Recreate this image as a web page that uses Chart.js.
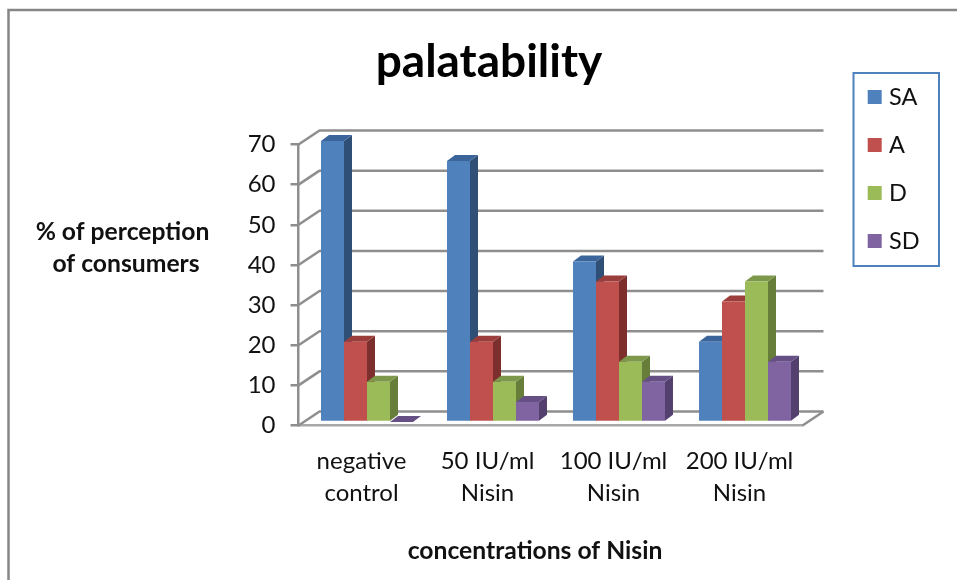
<!DOCTYPE html>
<html><head><meta charset="utf-8">
<style>html,body{margin:0;padding:0;background:#fff}canvas{display:block}</style>
<script src="https://cdn.jsdelivr.net/npm/chart.js@4"></script>
</head><body><canvas id="c" width="957" height="580"></canvas>
<script>
const categories = [["negative","control"],["50 IU/ml","Nisin"],["100 IU/ml","Nisin"],["200 IU/ml","Nisin"]];
const SA = [70,65,40,20];
const A  = [20,20,35,30];
const D  = [10,10,15,35];
const SD = [0,5,10,15];
const seriesNames = ["SA","A","D","SD"];
const chartTitle = "palatability";
const yTitleLines = ["% of perception","of consumers"];
const xTitle = "concentrations of Nisin";

const FONT = "Lato, Carlito, Calibri, sans-serif";
const TEXT = "#111";
const GRID = "#8e8e8e";
const front = ["#4f81bd","#c0504d","#9bbb59","#8064a2"];
const side  = ["#2f4f76","#7d2f2d","#677d3a","#54406e"];
const top_  = ["#3b659a","#9b3d3a","#7d984a","#654f85"];
const DEPTH_X = 8, DEPTH_Y = 6;          // bar depth
const BAR_SHIFT_X = 5.5, BAR_SHIFT_Y = -3.5; // bars sit inside the floor
const WALL_X = 21, WALL_Y = 14;          // back wall offset from the front plane

const view3d = {
  id: "view3d",
  beforeLayout(chart){
    const l = chart.legend;
    if (l && !l._wrapped){
      const f = l.fit;
      l.fit = function(){ f.call(this); this.width = 154.5; };
      l._wrapped = true;
    }
  },
  afterLayout(chart){
    const l = chart.legend;
    l.left = 847.7; l.right = 957; l.top = 60.75; l.bottom = 280;
  },
  beforeDraw(chart){
    const c = chart.ctx;
    c.save();
    c.fillStyle = "#fff"; c.fillRect(0,0,chart.width,chart.height);
    c.strokeStyle = "#868686"; c.lineWidth = 2.5;
    c.beginPath(); c.moveTo(8.5,chart.height); c.lineTo(8.5,10); c.lineTo(chart.width,10); c.stroke();
    // legend frame
    c.strokeStyle = "#4f81bd"; c.lineWidth = 2;
    c.strokeRect(853.5,73,85.5,193);
    // axis titles
    c.fillStyle = TEXT; c.textAlign = "center"; c.textBaseline = "middle";
    c.font = "bold 24.7px " + FONT;
    c.fillText(yTitleLines[0],122.5,232);
    c.fillText(yTitleLines[1],126,264);
    c.fillText(xTitle,535,551);
    c.restore();
  },
  beforeDatasetsDraw(chart){
    const c = chart.ctx, a = chart.chartArea, y = chart.scales.y;
    c.save();
    c.strokeStyle = GRID; c.lineWidth = 2.5; c.lineJoin = "round";
    y.ticks.forEach((t,i)=>{
      const p = y.getPixelForTick(i);
      c.beginPath();
      c.moveTo(a.left,p); c.lineTo(a.left+WALL_X,p-WALL_Y); c.lineTo(a.right+WALL_X,p-WALL_Y);
      c.stroke();
    });
    c.beginPath();
    c.moveTo(a.right,a.bottom); c.lineTo(a.right+WALL_X,a.bottom-WALL_Y); c.stroke();
    c.restore();
    c.save();
    c.translate(BAR_SHIFT_X,BAR_SHIFT_Y);
    // side and top faces, left to right; the front faces are then drawn over them
    values.forEach((v,i)=>{
      chart.getDatasetMeta(i).data.forEach(b=>{
        const w = b.width, l = b.x-w/2, r = b.x+w/2, t = b.y, base = b.base;
        c.fillStyle = side[i];
        c.beginPath();
        c.moveTo(r,t); c.lineTo(r+DEPTH_X,t-DEPTH_Y); c.lineTo(r+DEPTH_X,base-DEPTH_Y); c.lineTo(r,base);
        c.closePath(); c.fill();
        c.fillStyle = top_[i];
        c.beginPath();
        c.moveTo(l,t); c.lineTo(l+DEPTH_X,t-DEPTH_Y); c.lineTo(r+DEPTH_X,t-DEPTH_Y); c.lineTo(r,t);
        c.closePath(); c.fill();
      });
    });
  },
  afterDatasetsDraw(chart){ chart.ctx.restore(); }
};

const values = [SA,A,D,SD];
new Chart(document.getElementById("c"),{
  type:"bar",
  data:{
    labels:categories,
    datasets:values.map((v,i)=>({
      label:seriesNames[i], data:v, backgroundColor:front[i], borderWidth:0,
      clip:false, categoryPercentage:0.73, barPercentage:1
    }))
  },
  options:{
    responsive:false, animation:false, devicePixelRatio:1,
    layout:{padding:{left:21,right:0,top:0,bottom:0}},
    plugins:{
      tooltip:{enabled:false},
      title:{display:true,text:chartTitle,color:"#000",
        font:{family:FONT,size:46,weight:"bold",lineHeight:"48px"},
        padding:{top:38,bottom:58.5}},
      legend:{position:"right",align:"start",
        labels:{color:TEXT,font:{family:FONT,size:23.5},usePointStyle:true,pointStyle:"rect",
          boxWidth:5,boxHeight:14,padding:24.5}}
    },
    scales:{
      x:{
        afterFit:s=>{s.height=154.5;},
        grid:{display:false},
        border:{display:true,color:"#a8a8a8",width:2.5},
        ticks:{color:TEXT,font:{family:FONT,size:24,lineHeight:"32px"},padding:11.5,maxRotation:0,autoSkip:false}
      },
      y:{
        min:0,max:70,
        afterFit:s=>{s.width=277.5;},
        grid:{drawOnChartArea:false,drawTicks:true,tickLength:8,color:GRID,lineWidth:2.5},
        border:{display:true,color:GRID,width:2.5},
        ticks:{stepSize:10,color:TEXT,font:{family:FONT,size:24},padding:15}
      }
    }
  },
  plugins:[view3d]
});
</script></body></html>
